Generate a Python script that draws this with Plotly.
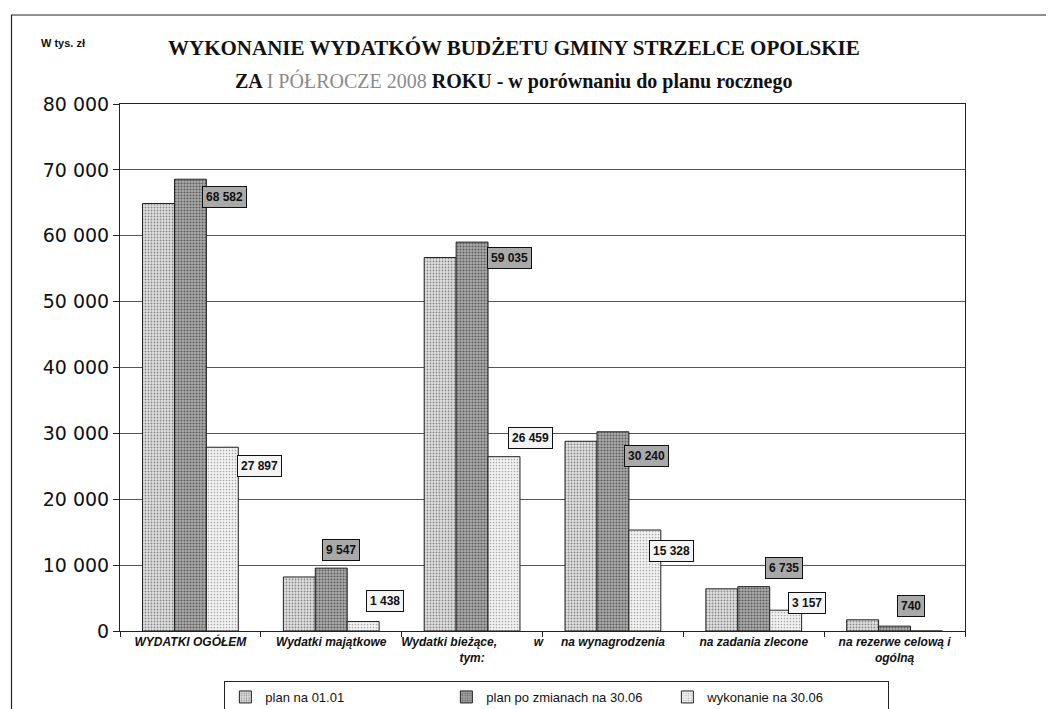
import plotly.graph_objects as go

# ---- data ----
categories = [
    "WYDATKI OGÓŁEM",
    "Wydatki majątkowe",
    "Wydatki bieżące," + "\u00a0" * 11 + "w<br>tym:",
    "na wynagrodzenia",
    "na zadania zlecone",
    "na rezerwe celową i<br>ogólną",
]
series_names = ["plan na 01.01", "plan po zmianach na 30.06", "wykonanie na 30.06"]
plan_0101 = [64900, 8200, 56700, 28800, 6400, 1700]
plan_zmiany = [68582, 9547, 59035, 30240, 6735, 740]
wykonanie = [27897, 1438, 26459, 15328, 3157, 0]
y_ticks = [0, 10000, 20000, 30000, 40000, 50000, 60000, 70000, 80000]

# ---- style (label offsets in pixels) ----
dark_dx = [34.5, 9.5, 37.5, 33.5, 30.5, 16.5]
dark_dy = [-18, 18.5, -16, -24, 19, 20]
wyk_dx = [69.5, 53.5, 58.5, 59, 53.5, 0]
wyk_dy = [-19, 21, 19, -21, 7.5, 0]


def fmt(v):
    return f"{v:,}".replace(",", " ")


fig = go.Figure()
styles = [
    dict(bg="#e0e0e0", fg="#8a8a8a", size=3, sol=0.3),
    dict(bg="#acacac", fg="#5e5e5e", size=3, sol=0.38),
    dict(bg="#f2f2f2", fg="#ababab", size=3, sol=0.25),
]
for name, vals, st in zip(series_names, [plan_0101, plan_zmiany, wykonanie], styles):
    fig.add_trace(go.Bar(
        x=categories, y=vals, name=name,
        marker=dict(
            color=st["bg"],
            line=dict(color="#222222", width=1),
            pattern=dict(shape=".", bgcolor=st["bg"], fgcolor=st["fg"],
                         size=st["size"], solidity=st["sol"], fillmode="replace"),
        ),
    ))

annotations = []
for i, c in enumerate(categories):
    annotations.append(dict(
        x=c, y=plan_zmiany[i], xref="x", yref="y", text=fmt(plan_zmiany[i]),
        showarrow=False, xshift=dark_dx[i], yshift=dark_dy[i],
        xanchor="center", yanchor="middle",
        bgcolor="#a9a9a9", bordercolor="#111111", borderwidth=1, borderpad=3,
        font=dict(family="Liberation Sans", size=12, color="#111111", weight="bold"),
    ))
    if wykonanie[i] > 0:
        annotations.append(dict(
            x=c, y=wykonanie[i], xref="x", yref="y", text=fmt(wykonanie[i]),
            showarrow=False, xshift=wyk_dx[i], yshift=wyk_dy[i],
            xanchor="center", yanchor="middle",
            bgcolor="#f4f4f4", bordercolor="#111111", borderwidth=1, borderpad=3,
            font=dict(family="Liberation Sans", size=12, color="#111111", weight="bold"),
        ))

# titles
annotations.append(dict(
    x=0.466, y=1.106, xref="paper", yref="paper", showarrow=False,
    xanchor="center", yanchor="middle",
    text="<b>WYKONANIE WYDATKÓW BUDŻETU GMINY STRZELCE OPOLSKIE</b>",
    font=dict(family="Liberation Serif", size=21, color="#111111"),
))
annotations.append(dict(
    x=0.466, y=1.043, xref="paper", yref="paper", showarrow=False,
    xanchor="center", yanchor="middle",
    text="<b>ZA </b><span style='color:#8a8a8a'>I PÓŁROCZE 2008</span><b> ROKU - w porównaniu do planu rocznego</b>",
    font=dict(family="Liberation Serif", size=20, color="#111111"),
))
annotations.append(dict(
    x=(61 - 118) / 845, y=(631 - 43) / 527, xref="paper", yref="paper", showarrow=False,
    xanchor="center", yanchor="middle",
    text="<b>W tys. zł</b>",
    font=dict(family="Liberation Sans", size=11, color="#111111"),
))

shapes = [dict(
    type="rect", xref="paper", yref="paper",
    x0=(9.5 - 118) / 845, x1=1.2, y0=-0.3, y1=(631 - 15) / 527,
    line=dict(color="#222222", width=1.2), fillcolor="rgba(0,0,0,0)", layer="below",
)]

fig.update_layout(
    width=1048, height=701, autosize=False,
    margin=dict(l=112, r=91, t=96, b=78),
    paper_bgcolor="white", plot_bgcolor="white",
    barmode="group", bargap=0.32, bargroupgap=0,
    separators=", ",
    showlegend=True,
    legend=dict(
        orientation="h", x=0.517, xanchor="center",
        yref="container", y=1 - 673 / 701, yanchor="top",
        bordercolor="#222222", borderwidth=1,
        font=dict(family="Liberation Sans", size=13, color="#111111"),
        entrywidth=176, entrywidthmode="pixels",
        traceorder="normal",
    ),
    annotations=annotations,
    shapes=shapes,
    font=dict(family="Liberation Sans", color="#111111"),
)
fig.update_xaxes(
    type="category", showline=True, linecolor="#222222", linewidth=1, mirror=True,
    ticks="outside", tickson="boundaries", ticklen=5, tickcolor="#222222",
    tickangle=0, automargin=False,
    tickfont=dict(family="Liberation Sans", size=12, color="#111111", weight="bold", style="italic"),
    showgrid=False,
)
fig.update_yaxes(
    range=[0, 80000], tickvals=y_ticks, tickformat=",d",
    showline=True, linecolor="#222222", linewidth=1, mirror=True,
    ticks="outside", ticklen=6, tickcolor="#222222", automargin=False,
    showgrid=True, gridcolor="#555555", gridwidth=1,
    tickfont=dict(family="DejaVu Sans", size=19, color="#111111"),
    zeroline=False,
)

fig.write_html("out.html")
